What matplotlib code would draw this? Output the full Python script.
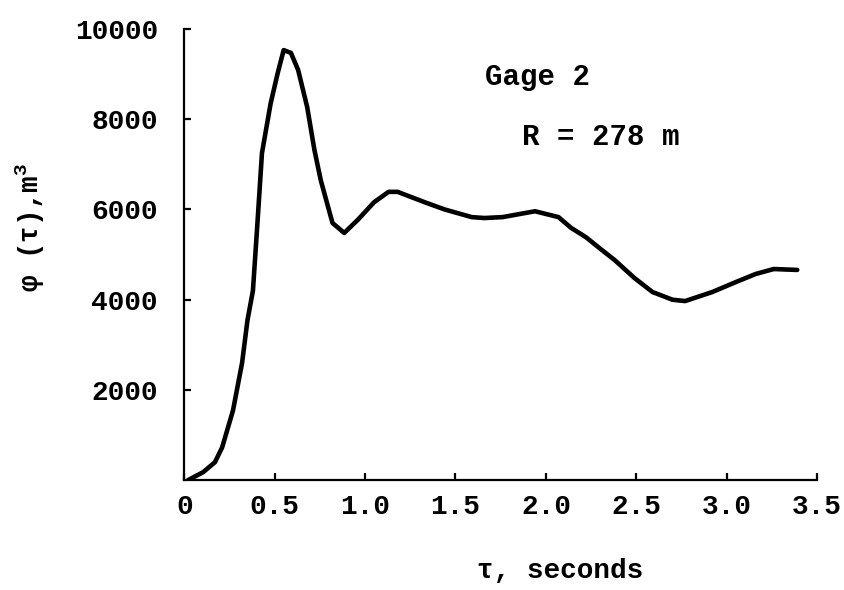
import matplotlib
matplotlib.use("Agg")
import matplotlib.pyplot as plt

# curve (tau in seconds, phi in m^3)
tau = [0.02, 0.105, 0.17, 0.21, 0.27, 0.32, 0.35, 0.38, 0.405, 0.43, 0.478,
       0.517, 0.55, 0.59, 0.63, 0.68, 0.72, 0.755, 0.82, 0.885, 0.96, 1.05,
       1.13, 1.18, 1.33, 1.44, 1.59, 1.66, 1.76, 1.94, 2.07, 2.14, 2.22, 2.31,
       2.38, 2.49, 2.59, 2.70, 2.77, 2.92, 3.05, 3.16, 3.26, 3.39]
phi = [0, 180, 400, 730, 1550, 2600, 3550, 4200, 5700, 7250, 8350,
       9020, 9530, 9470, 9090, 8270, 7320, 6650, 5700, 5480, 5770, 6160,
       6390, 6390, 6160, 6000, 5830, 5810, 5830, 5960, 5830, 5590, 5390, 5100,
       4880, 4480, 4170, 4000, 3970, 4170, 4390, 4570, 4680, 4660]

xticks = [0, 0.5, 1.0, 1.5, 2.0, 2.5, 3.0, 3.5]
xtick_labels = ["0", "0.5", "1.0", "1.5", "2.0", "2.5", "3.0", "3.5"]
yticks = [2000, 4000, 6000, 8000, 10000]

mono = ["Liberation Mono", "DejaVu Sans Mono"]
plt.rcParams["font.family"] = mono
plt.rcParams["font.weight"] = "bold"
plt.rcParams["axes.labelweight"] = "bold"
plt.rcParams["mathtext.fontset"] = "custom"
plt.rcParams["mathtext.rm"] = "Liberation Mono:bold"
plt.rcParams["mathtext.bf"] = "Liberation Mono:bold"

fig = plt.figure(figsize=(8.45, 5.9), dpi=100)
ax = fig.add_axes([0.218, 0.186, 0.749, 0.765])

ax.plot(tau, phi, color="black", lw=3.3, solid_capstyle="round",
        solid_joinstyle="round")

ax.set_xlim(0, 3.5)
ax.set_ylim(0, 10000)
ax.set_xticks(xticks)
ax.set_xticklabels(xtick_labels)
ax.set_yticks(yticks)

for s in ["top", "right"]:
    ax.spines[s].set_visible(False)
for s in ["left", "bottom"]:
    ax.spines[s].set_linewidth(1.6)

ax.tick_params(direction="in", length=5, width=1.6, labelsize=20)
ax.tick_params(axis="x", pad=10)
ax.tick_params(axis="y", pad=19)

ax.set_xlabel("τ, seconds", fontsize=20, fontweight="bold")
ax.xaxis.set_label_coords(0.594, -0.202)
ax.xaxis.label.set_va("center")
ax.set_ylabel("φ (τ),m$^{\\mathbf{3}}$", fontsize=20, fontweight="bold")
ax.yaxis.set_label_coords(-0.243, 0.561)
ax.yaxis.label.set_va("center")

ax.text(1.664, 8936, "Gage 2", fontsize=21, ha="left", va="center")
ax.text(1.868, 7605, "R = 278 m", fontsize=21, ha="left", va="center")

fig.savefig("out.png", dpi=100, facecolor="white")
